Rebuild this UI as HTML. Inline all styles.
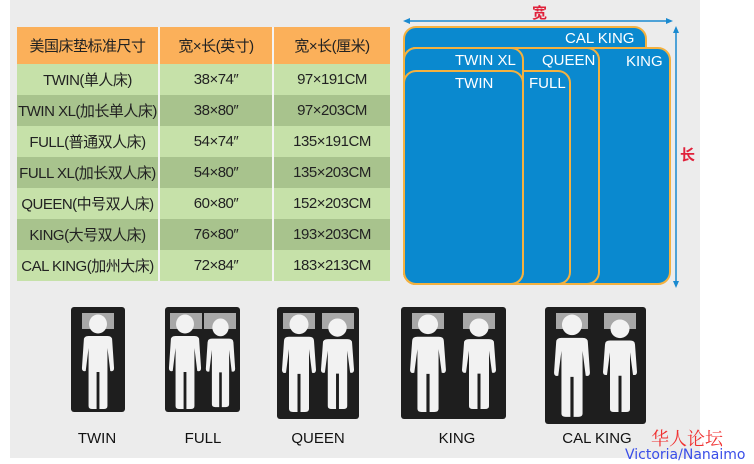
<!DOCTYPE html>
<html><head><meta charset="utf-8"><style>
body{margin:0;width:754px;height:464px;background:#fff;position:relative;overflow:hidden;font-family:"Liberation Sans","Noto Sans CJK SC",sans-serif}
#bg{position:absolute;left:10px;top:0;width:690px;height:458px;background:#ececec}
table{position:absolute;left:17px;top:27px;border-collapse:collapse;table-layout:fixed;width:373px}
td{padding:0;text-align:center;font-size:15px;color:#222;border-right:2px solid #f4f4f4;height:31px;white-space:nowrap;letter-spacing:-0.5px;overflow:visible}
tr.h td{background:#fbb05a;height:37px}
tr.a td{background:#c6e1a9}
tr.b td{background:#a8c38d}
td:last-child{border-right:none}
</style></head><body>
<div id="bg"></div>
<table>
<colgroup><col style="width:142px"><col style="width:114px"><col style="width:117px"></colgroup>
<tr class="h"><td>美国床垫标准尺寸</td><td>宽×长(英寸)</td><td>宽×长(厘米)</td></tr>
<tr class="a"><td>TWIN(单人床)</td><td>38×74″</td><td>97×191CM</td></tr>
<tr class="b"><td>TWIN XL(加长单人床)</td><td>38×80″</td><td>97×203CM</td></tr>
<tr class="a"><td>FULL(普通双人床)</td><td>54×74″</td><td>135×191CM</td></tr>
<tr class="b"><td>FULL XL(加长双人床)</td><td>54×80″</td><td>135×203CM</td></tr>
<tr class="a"><td>QUEEN(中号双人床)</td><td>60×80″</td><td>152×203CM</td></tr>
<tr class="b"><td>KING(大号双人床)</td><td>76×80″</td><td>193×203CM</td></tr>
<tr class="a"><td>CAL KING(加州大床)</td><td>72×84″</td><td>183×213CM</td></tr>
</table>
<svg width="754" height="464" style="position:absolute;left:0;top:0" font-family="Liberation Sans, sans-serif">
<defs>
<symbol id="p" viewBox="0 0 36 96" preserveAspectRatio="none">
<circle cx="18" cy="10" r="9.5" fill="#f2f2f2"/>
<path d="M3 26 Q3 22 8 22 H28 Q33 22 33 26 L35 54 Q35 58 31 57 L28 34 V92 Q28 95 24 95 H19.5 V58 H16.5 V95 H12 Q8 95 8 92 V34 L5 57 Q1 58 1 54 Z" fill="#f2f2f2"/>
</symbol>
</defs>
<g fill="#0a89cf" stroke="#f4b13f" stroke-width="2">
<rect x="404" y="27" width="242" height="257" rx="12"/>
<rect x="404" y="48" width="266" height="236" rx="12"/>
<rect x="404" y="48" width="195" height="236" rx="12"/>
<rect x="404" y="71" width="166" height="213" rx="12"/>
<rect x="404" y="48" width="119" height="236" rx="12"/>
<rect x="404" y="71" width="119" height="213" rx="12"/>
</g>
<g fill="#fff" font-size="15">
<text x="565" y="43">CAL KING</text>
<text x="455" y="65">TWIN XL</text>
<text x="542" y="65">QUEEN</text>
<text x="626" y="66">KING</text>
<text x="455" y="88">TWIN</text>
<text x="529" y="88">FULL</text>
</g>
<g stroke="#1a8ad0" stroke-width="1.5" fill="#1a8ad0">
<line x1="406" y1="21" x2="670" y2="21"/><path d="M403 21 l7 -3 v6z M673 21 l-7 -3 v6z" stroke="none"/>
<line x1="676" y1="30" x2="676" y2="284"/><path d="M676 26 l-3 7 h6z M676 288 l-3 -7 h6z" stroke="none"/>
</g>
<text x="532" y="18" fill="#e0203a" font-size="15" font-weight="bold" font-family="Noto Sans CJK SC, sans-serif">宽</text>
<text x="680" y="160" fill="#e0203a" font-size="15" font-weight="bold" font-family="Noto Sans CJK SC, sans-serif">长</text>
<g fill="#1e1e1e">
<rect x="71" y="307" width="54" height="105" rx="3"/>
<rect x="165" y="307" width="75" height="105" rx="3"/>
<rect x="277" y="307" width="82" height="112" rx="3"/>
<rect x="401" y="307" width="105" height="112" rx="3"/>
<rect x="545" y="307" width="101" height="117" rx="3"/>
</g>
<g fill="#a8a8a8">
<rect x="82" y="313" width="32" height="16"/>
<rect x="170" y="313" width="32" height="16"/><rect x="204" y="313" width="32" height="16"/>
<rect x="283" y="313" width="32" height="16"/><rect x="322" y="313" width="32" height="16"/>
<rect x="412" y="313" width="32" height="16"/><rect x="463" y="313" width="32" height="16"/>
<rect x="556" y="313" width="32" height="16"/><rect x="604" y="313" width="32" height="16"/>
</g>
<use href="#p" x="81" y="314" width="34" height="96"/>
<use href="#p" x="168" y="314" width="34" height="96"/>
<use href="#p" x="205" y="318" width="31" height="90"/>
<use href="#p" x="281" y="314" width="36" height="99"/>
<use href="#p" x="320" y="318" width="35" height="92"/>
<use href="#p" x="409" y="314" width="38" height="99"/>
<use href="#p" x="461" y="318" width="36" height="92"/>
<use href="#p" x="553" y="314" width="38" height="104"/>
<use href="#p" x="602" y="319" width="36" height="94"/>
<g font-size="15" fill="#111" text-anchor="middle">
<text x="97" y="443">TWIN</text><text x="203" y="443">FULL</text><text x="318" y="443">QUEEN</text><text x="457" y="443">KING</text><text x="597" y="443">CAL KING</text>
</g>
<text x="651" y="445" fill="#f03030" font-size="18" font-family="Noto Serif CJK SC, serif">华人论坛</text>
<text x="625" y="459" fill="#3a4ee8" font-size="14" font-family="DejaVu Sans, sans-serif">Victoria/Nanaimo</text>
</svg>
</body></html>
